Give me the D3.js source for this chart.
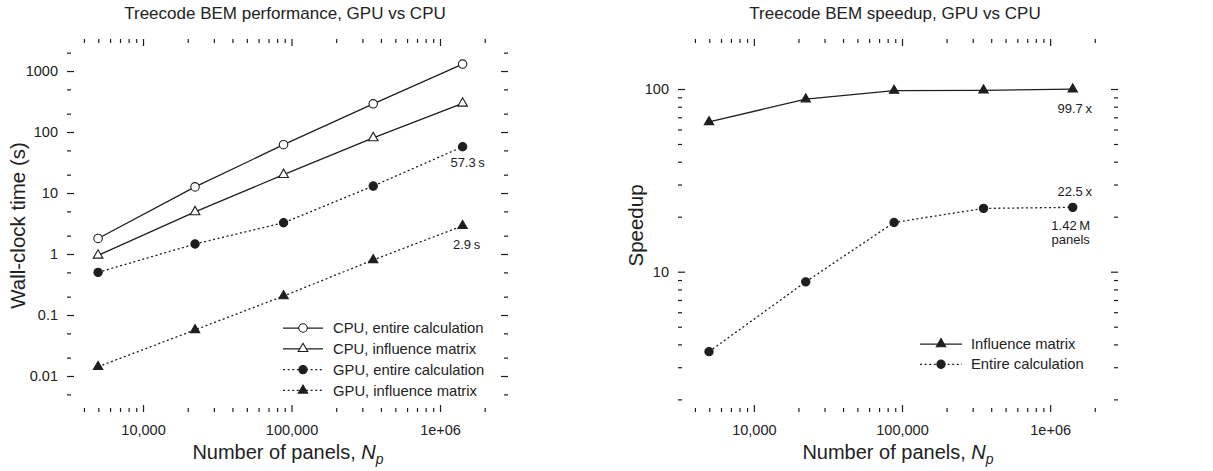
<!DOCTYPE html>
<html>
<head>
<meta charset="utf-8">
<script src="https://cdn.jsdelivr.net/npm/d3@7"></script>
<style>
  body { margin: 0; background: #fff; }
  svg text { font-family: "Liberation Sans", Arial, sans-serif; fill: #222; }
</style>
</head>
<body>
<svg id="chart" width="1213" height="471"></svg>
<script>
// data
const nPanels = [4980, 22400, 88400, 355000, 1420000];
const cpuEntire = [1.8, 12.6, 62, 290, 1300];
const cpuInfluence = [0.95, 4.9, 20, 80, 295];
const gpuEntire = [0.5, 1.46, 3.26, 13.0, 57.3];
const gpuInfluence = [0.0142, 0.057, 0.205, 0.80, 2.9];
const speedupInfluence = [66, 88, 98, 98.4, 99.7];
const speedupEntire = [3.65, 8.8, 18.6, 22.2, 22.5];

const xTicks = [1e4, 1e5, 1e6];
const xTickLabels = ["10,000", "100,000", "1e+06"];
const timeTicks = [0.01, 0.1, 1, 10, 100, 1000];
const speedTicks = [10, 100];

const leftLegend = ["CPU, entire calculation", "CPU, influence matrix", "GPU, entire calculation", "GPU, influence matrix"];
const rightLegend = ["Influence matrix", "Entire calculation"];

const svg = d3.select("#chart");
const ink = "#1e1e1e";

const frameL = {left: 67, right: 508, top: 39, bottom: 412};
const frameR = {left: 678, right: 1118, top: 39, bottom: 412};

function minorTicks(scale, mults, majors) {
  const [a, b] = scale.domain();
  let out = [];
  for (let k = -4; k <= 7; k++) {
    mults.forEach(function(m) {
      const v = m * Math.pow(10, k);
      if (v >= a && v <= b && majors.indexOf(v) < 0) out.push(v);
    });
  }
  return out;
}

function tickAxis(gen, tr, values, size, fmt, pad) {
  const g = svg.append("g")
    .attr("transform", tr)
    .call(gen.tickValues(values).tickSize(-size).tickPadding(pad || 3).tickFormat(fmt || (() => "")));
  g.select(".domain").remove();
  g.selectAll(".tick line").attr("stroke", ink).attr("stroke-width", 1.2);
  g.selectAll(".tick text").style("font-size", "14.5px").attr("fill", ink);
  return g;
}

function drawAxes(f, x, y, yMinorMults, yTicks, yFmt) {
  const all = d3.range(2, 10);
  const xMin = minorTicks(x, all, xTicks);
  const yMin = minorTicks(y, yMinorMults, yTicks);
  // bottom with labels
  tickAxis(d3.axisBottom(x), `translate(0,${f.bottom})`, xTicks, 7,
    (d, i) => xTickLabels[i], 13);
  tickAxis(d3.axisBottom(x), `translate(0,${f.bottom})`, xMin, 4);
  tickAxis(d3.axisTop(x), `translate(0,${f.top})`, xTicks, 7);
  tickAxis(d3.axisTop(x), `translate(0,${f.top})`, xMin, 4);
  tickAxis(d3.axisLeft(y), `translate(${f.left},0)`, yTicks, 7, yFmt, 9);
  tickAxis(d3.axisLeft(y), `translate(${f.left},0)`, yMin, 4);
  tickAxis(d3.axisRight(y), `translate(${f.right},0)`, yTicks, 7);
  tickAxis(d3.axisRight(y), `translate(${f.right},0)`, yMin, 4);
}

const circle = d3.symbol().type(d3.symbolCircle);
const triangle = d3.symbol().type(d3.symbolTriangle);

function marker(g, type, filled, cx, cy) {
  const sym = type === "circle" ? circle.size(filled ? 54 : 56)() : triangle.size(filled ? 38 : 40)();
  g.append("path")
    .attr("d", sym)
    .attr("transform", `translate(${cx},${cy})`)
    .attr("fill", filled ? ink : "#fff")
    .attr("stroke", ink)
    .attr("stroke-width", 1.1);
}

function series(x, y, vals, type, filled, dashed) {
  const pts = nPanels.map((n, i) => [n, vals[i]]);
  const line = d3.line().x(d => x(d[0])).y(d => y(d[1]));
  svg.append("path")
    .attr("d", line(pts))
    .attr("fill", "none")
    .attr("stroke", ink)
    .attr("stroke-width", dashed ? 1.3 : 1.25)
    .attr("stroke-dasharray", dashed ? "2,2.6" : null);
  const g = svg.append("g");
  pts.forEach(p => marker(g, type, filled, x(p[0]), y(p[1])));
}

function legend(items, x0, x1, tx, y0, step) {
  items.forEach(function(it, i) {
    const yy = y0 + i * step;
    svg.append("line")
      .attr("x1", x0).attr("x2", x1).attr("y1", yy).attr("y2", yy)
      .attr("stroke", ink).attr("stroke-width", 1.25)
      .attr("stroke-dasharray", it.dashed ? "2,2.6" : null);
    marker(svg, it.type, it.filled, (x0 + x1) / 2, yy);
    svg.append("text")
      .attr("x", tx).attr("y", yy).attr("dy", "0.35em")
      .style("font-size", "14.8px")
      .text(it.label);
  });
}

function title(txt, cx) {
  svg.append("text")
    .attr("x", cx).attr("y", 19)
    .attr("text-anchor", "middle")
    .style("font-size", "17px")
    .text(txt);
}

function xTitle(cx) {
  const t = svg.append("text")
    .attr("x", cx).attr("y", 459)
    .attr("text-anchor", "middle")
    .style("font-size", "20px");
  t.append("tspan").text("Number of panels, ");
  t.append("tspan").style("font-style", "italic").text("N");
  t.append("tspan").style("font-style", "italic").style("font-size", "14px")
    .attr("dy", 5).text("p");
}

function yTitle(txt, cx, cy) {
  svg.append("text")
    .attr("transform", `translate(${cx},${cy}) rotate(-90)`)
    .attr("text-anchor", "middle")
    .attr("dy", "0.35em")
    .style("font-size", "20.5px")
    .text(txt);
}

function note(txt, px, py, dx, dy) {
  svg.append("text")
    .attr("x", px + dx).attr("y", py + dy)
    .attr("text-anchor", "middle")
    .style("font-size", "13px")
    .text(txt);
}

// ---- left panel: wall-clock time
const xL = d3.scaleLog().domain([3076, 2.87e6]).range([frameL.left, frameL.right]);
const yL = d3.scaleLog().domain([0.00257, 3350]).range([frameL.bottom, frameL.top]);

drawAxes(frameL, xL, yL, [2, 5], timeTicks, d => String(d));
series(xL, yL, cpuEntire, "circle", false, false);
series(xL, yL, cpuInfluence, "triangle", false, false);
series(xL, yL, gpuEntire, "circle", true, true);
series(xL, yL, gpuInfluence, "triangle", true, true);

const last = nPanels.length - 1;
note(gpuEntire[last] + "\u2009s", xL(nPanels[last]), yL(gpuEntire[last]), 5, 20);
note(gpuInfluence[last] + "\u2009s", xL(nPanels[last]), yL(gpuInfluence[last]), 4, 23);

legend([
  {label: leftLegend[0], type: "circle", filled: false, dashed: false},
  {label: leftLegend[1], type: "triangle", filled: false, dashed: false},
  {label: leftLegend[2], type: "circle", filled: true, dashed: true},
  {label: leftLegend[3], type: "triangle", filled: true, dashed: true}
], 283, 323, 333, 328, 20.8);

title("Treecode BEM performance, GPU vs CPU", 285);
xTitle(288);
yTitle("Wall-clock time (s)", 17.5, 225.5);

// ---- right panel: speedup
const xR = d3.scaleLog().domain([3076, 2.87e6]).range([frameR.left, frameR.right]);
const yR = d3.scaleLog().domain([1.706, 187.8]).range([frameR.bottom, frameR.top]);

drawAxes(frameR, xR, yR, d3.range(2, 10), speedTicks, d => String(d));
series(xR, yR, speedupInfluence, "triangle", true, false);
series(xR, yR, speedupEntire, "circle", true, true);

note(speedupInfluence[last] + "\u2009x", xR(nPanels[last]), yR(speedupInfluence[last]), 2, 24);
note(speedupEntire[last] + "\u2009x", xR(nPanels[last]), yR(speedupEntire[last]), 2, -11);
note("1.42\u2009M", xR(nPanels[last]), yR(speedupEntire[last]), -2, 23);
note("panels", xR(nPanels[last]), yR(speedupEntire[last]), -2, 37);

legend([
  {label: rightLegend[0], type: "triangle", filled: true, dashed: false},
  {label: rightLegend[1], type: "circle", filled: true, dashed: true}
], 920, 962, 971, 344, 20.3);

title("Treecode BEM speedup, GPU vs CPU", 895);
xTitle(898);
yTitle("Speedup", 636, 225.5);
</script>
</body>
</html>
